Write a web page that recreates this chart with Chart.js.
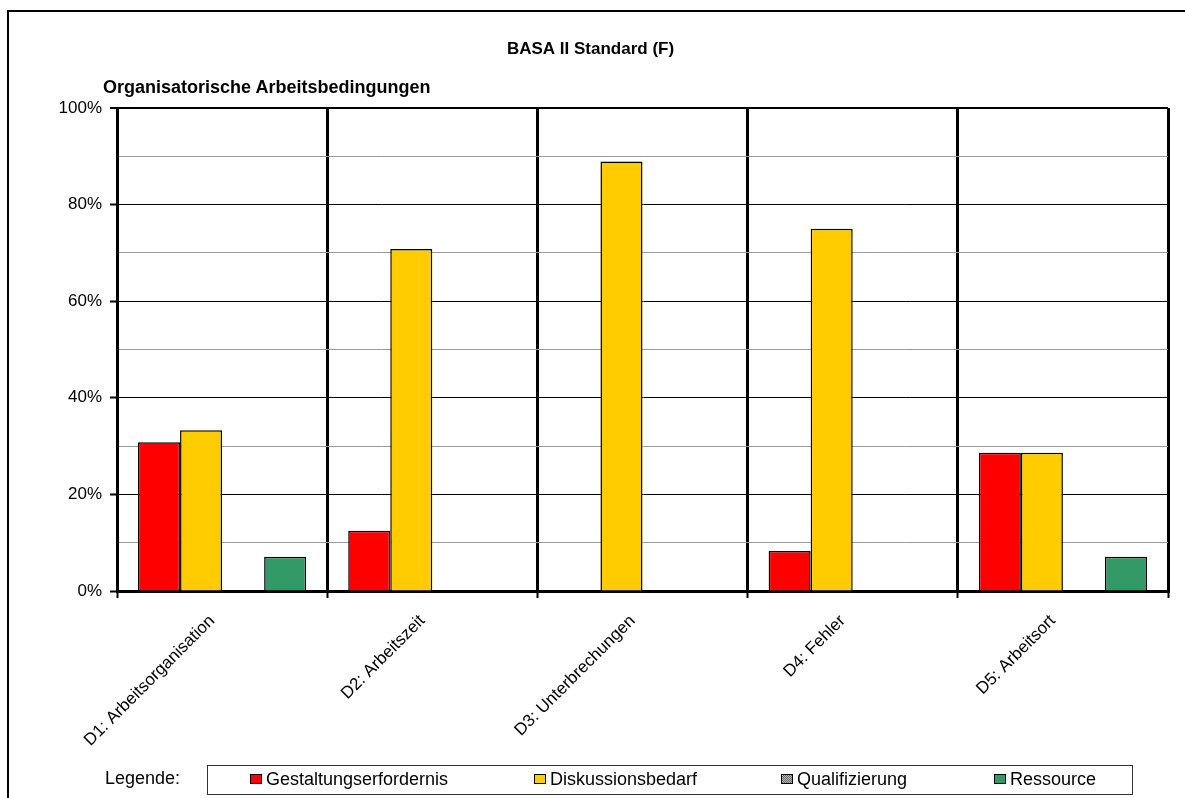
<!DOCTYPE html>
<html lang="de">
<head>
<meta charset="utf-8">
<title>BASA II Standard (F)</title>
<script src="https://cdn.jsdelivr.net/npm/chart.js@4.4.1/dist/chart.umd.min.js"></script>
<style>
  body { margin: 0; background: #fff; font-family: "Liberation Sans", Arial, sans-serif; color: #000; }
  #wrap { position: relative; width: 1185px; height: 798px; overflow: hidden; }
  #frame { position: absolute; left: 7px; top: 10px; width: 2000px; height: 2000px; border-left: 2px solid #000; border-top: 2px solid #000; }
  #chart { position: absolute; left: 0; top: 0; }
  .txt { position: absolute; white-space: nowrap; font-size: 18px; line-height: 18px; }
  #subtitle { left: 103px; top: 78px; font-weight: bold; }
  #legLabel { left: 105px; top: 769px; }
  #legend { position: absolute; left: 207px; top: 765px; width: 924px; height: 28px; border: 1px solid #333; }
  .item { position: absolute; top: 4px; font-size: 18px; line-height: 18px; white-space: nowrap; }
  .sw { display: inline-block; width: 10px; height: 8px; border: 1px solid #000; margin-right: 4px; vertical-align: 1px; }
</style>
</head>
<body>
<div id="wrap">
  <div id="frame"></div>
  <canvas id="chart" width="1185" height="798"></canvas>
  <div class="txt" id="subtitle">Organisatorische Arbeitsbedingungen</div>
  <div class="txt" id="legLabel">Legende:</div>
  <div id="legend"></div>
</div>
<script>
// ===== Daten =====
const categories = ["D1: Arbeitsorganisation", "D2: Arbeitszeit", "D3: Unterbrechungen", "D4: Fehler", "D5: Arbeitsort"];
const gestaltung = [30.8, 12.5, 0, 8.3, 28.6];
const diskussion = [33.3, 70.8, 88.9, 75.0, 28.6];
const qualifizierung = [0, 0, 0, 0, 0];
const ressource = [7.1, 0, 0, 0, 7.1];
const seriesNames = ["Gestaltungserfordernis", "Diskussionsbedarf", "Qualifizierung", "Ressource"];
const yTicks = [0, 20, 40, 60, 80, 100];

// Muster für Qualifizierung
const pc = document.createElement("canvas");
pc.width = 2; pc.height = 2;
const pctx = pc.getContext("2d");
pctx.fillStyle = "#c0c0c0"; pctx.fillRect(0, 0, 2, 2);
pctx.fillStyle = "#606060"; pctx.fillRect(0, 0, 1, 1); pctx.fillRect(1, 1, 1, 1);
const qualPattern = pctx.createPattern(pc, "repeat");

const colors = ["#ff0000", "#ffcc00", qualPattern, "#339966"];
const legendCss = ["#ff0000", "#ffcc00", "repeating-conic-gradient(#606060 0 25%, #c0c0c0 0 50%) 0 0/2px 2px", "#339966"];
const legendX = [42, 326, 573, 786];

const font = { family: "'Liberation Sans', Arial, sans-serif", size: 17 };

const ctx = document.getElementById("chart").getContext("2d");
new Chart(ctx, {
  type: "bar",
  data: {
    labels: categories,
    datasets: [gestaltung, diskussion, qualifizierung, ressource].map((d, i) => ({
      label: seriesNames[i],
      data: d,
      backgroundColor: colors[i],
      borderColor: "#000",
      borderWidth: 1.5,
      categoryPercentage: 0.8,
      barPercentage: 1.0
    }))
  },
  options: {
    responsive: false,
    animation: false,
    layout: { padding: { left: 13, right: 17, top: 0, bottom: 27 } },
    plugins: {
      legend: { display: false },
      tooltip: { enabled: false },
      title: {
        display: true,
        text: "BASA II Standard (F)",
        color: "#000",
        font: { family: font.family, size: 17, weight: "bold" },
        padding: { top: 39, bottom: 48.6 }
      }
    },
    scales: {
      x: {
        afterFit: s => { s.height = 180; },
        grid: { offset: true, color: "#000", lineWidth: 3, tickLength: 7, tickColor: "#000", tickWidth: 2 },
        border: { color: "#000", width: 3 },
        ticks: { color: "#000", font, maxRotation: 45, minRotation: 45, padding: 13, labelOffset: -10, autoSkip: false }
      },
      y: {
        min: 0, max: 100,
        afterFit: s => { s.width = 104; },
        grid: {
          color: c => c.tick.value === 0 ? "rgba(0,0,0,0)" : (yTicks.includes(c.tick.value) ? "#000" : "#999"),
          lineWidth: c => c.tick.value === 100 ? 2 : 1,
          tickLength: 7,
          tickWidth: 2,
          tickColor: c => yTicks.includes(c.tick.value) ? "#000" : "rgba(0,0,0,0)"
        },
        border: { color: "#000", width: 3 },
        ticks: {
          stepSize: 10,
          color: "#000",
          font,
          padding: 8,
          callback: v => yTicks.includes(v) ? v + "%" : ""
        }
      }
    }
  }
});

// Legende
const legend = document.getElementById("legend");
seriesNames.forEach((name, i) => {
  const item = document.createElement("div");
  item.className = "item";
  item.style.left = legendX[i] + "px";
  item.innerHTML = `<span class="sw" style="background:${legendCss[i]}"></span>${name}`;
  legend.appendChild(item);
});
</script>
</body>
</html>
